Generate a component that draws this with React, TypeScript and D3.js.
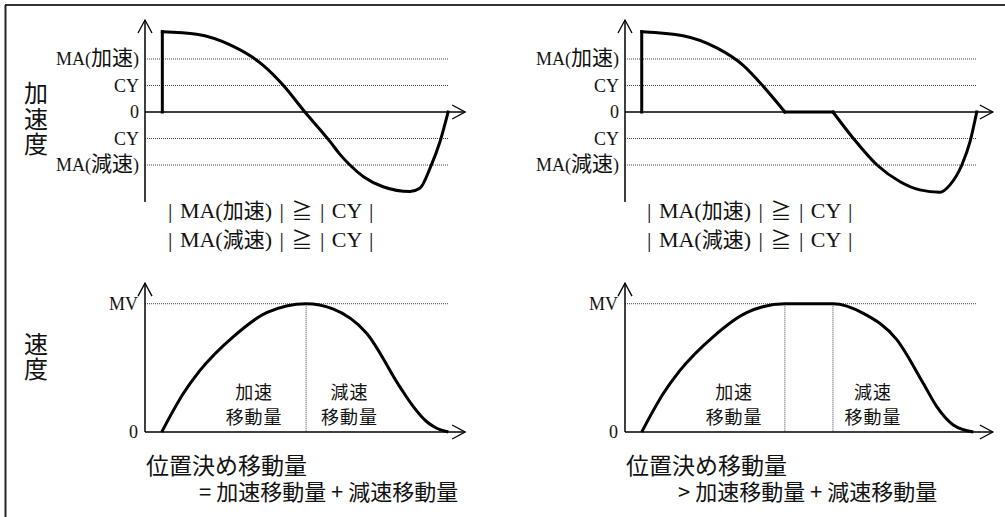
import React from 'react';
import * as d3 from 'd3';

// ---- data (time units, acceleration in CY units, velocity in MV units) ----
const accelTickLabels = ['MA(加速)', 'CY', '0', 'CY', 'MA(減速)'];
const accelTickValues = [2, 1, 0, -1, -2];
const velTickLabels = ['MV', '0'];
const velTickValues = [1, 0];

// left panel: acceleration
const accelLeftStep: [number, number][] = [[5.7, 0], [5.7, 3.03]];
const accelLeftCurve: [number, number][] = [
  [5.7, 3.03], [17.0, 2.93], [28.0, 2.53], [38.8, 1.77], [45.4, 1.02], [52.6, 0],
  [60.9, -1.12], [64.0, -1.58], [67.4, -2.0], [72.0, -2.45], [78.3, -2.82], [87.2, -3.0],
  [90.5, -2.87], [93.8, -2.11], [97.0, -1.13], [99.7, 0],
];
// right panel: acceleration
const accelRightStep: [number, number][] = [[5.5, 0], [5.5, 3.03]];
const accelRightDown: [number, number][] = [
  [5.5, 3.03], [19.1, 2.88], [30.2, 2.42], [38.8, 1.77], [45.4, 0.98], [52.6, 0],
];
const accelRightFlat: [number, number][] = [[52.6, 0], [68.4, 0]];
const accelRightNeg: [number, number][] = [
  [68.4, 0], [75.0, -0.98], [82.9, -2.0], [90.5, -2.63], [97.0, -2.94], [103.6, -3.03],
  [106.9, -2.75], [110.8, -2.0], [113.5, -1.12], [115.7, 0],
];
// velocity
const velLeft: [number, number][] = [
  [5.5, 0], [12.6, 0.3], [18.1, 0.48], [28.9, 0.74], [40.0, 0.93], [53.0, 1.0],
  [61.8, 0.96], [72.9, 0.77], [83.9, 0.35], [88.2, 0.2], [92.7, 0.08], [95.5, 0.035], [99.8, 0],
];
const velLeftSplit = [53.0];
const velRight: [number, number][] = [
  [5.5, 0], [12.6, 0.3], [18.1, 0.48], [28.9, 0.74], [40.0, 0.93], [52.6, 1.0],
  [68.4, 1.0], [78.4, 0.925], [89.4, 0.72], [98.1, 0.38], [102.5, 0.2], [108.0, 0.055], [114.6, 0],
];
const velRightSplit = [52.6, 68.4];

const panels = [
  { ox: 145, tEnd: 100, tArrow: 105.3, accel: [accelLeftStep, accelLeftCurve], vel: velLeft, splits: velLeftSplit,
    formulaX: 168, sumX: 199, sumText: '= 加速移動量 + 減速移動量', accLabelT: 35.9, decLabelT: 67.3 },
  { ox: 625, tEnd: 115.7, tArrow: 121, accel: [accelRightStep, accelRightDown, accelRightFlat, accelRightNeg], vel: velRight, splits: velRightSplit,
    formulaX: 647, sumX: 678, sumText: '> 加速移動量 + 減速移動量', accLabelT: 35.9, decLabelT: 81.6 },
];

const SERIF = "'Liberation Serif', 'Noto Sans CJK JP', serif";
const SANS = "'Noto Sans CJK JP', 'Noto Sans', sans-serif";

// split a label into latin / CJK runs so CJK can be sized separately
function runs(s: string): { t: string; cjk: boolean }[] {
  const out: { t: string; cjk: boolean }[] = [];
  for (const ch of s) {
    const cjk = /[\u3000-\u9fff\u2266\u2267]/.test(ch);
    if (out.length && out[out.length - 1].cjk === cjk) out[out.length - 1].t += ch;
    else out.push({ t: ch, cjk });
  }
  return out;
}

function MixedText(props: { x: number; y: number; s: string; size: number; cjkSize: number; anchor?: string; wordSpacing?: number }) {
  return (
    <text x={props.x} y={props.y} textAnchor={props.anchor || 'start'} fontFamily={SERIF} fontSize={props.size} fill="#111"
      style={props.wordSpacing ? { wordSpacing: props.wordSpacing + 'px' } : undefined}>
      {runs(props.s).map((r, i) => (
        <tspan key={i} fontSize={r.cjk ? props.cjkSize : props.size} fontFamily={r.cjk ? SANS : SERIF}>{r.t}</tspan>
      ))}
    </text>
  );
}

export default function App() {
  const tScale = d3.scaleLinear().domain([0, 100]).range([0, 304]);
  const aScale = d3.scaleLinear().domain([-3, 3]).range([112 + 79.5, 112 - 79.5]);
  const vScale = d3.scaleLinear().domain([0, 1]).range([432, 303.7]);

  const accelLine = (pts: [number, number][], ox: number, linear: boolean) =>
    d3.line<[number, number]>()
      .x(d => ox + tScale(d[0]))
      .y(d => aScale(d[1]))
      .curve(linear ? d3.curveLinear : d3.curveMonotoneX)(pts) || '';
  const velLine = (pts: [number, number][], ox: number) =>
    d3.line<[number, number]>()
      .x(d => ox + tScale(d[0]))
      .y(d => vScale(d[1]))
      .curve(d3.curveMonotoneX)(pts) || '';

  const yTopAxis = aScale(3.47);
  const yBotAxis = aScale(-3.4);
  const a0 = aScale(0);
  const v0 = vScale(0);
  const vTop = vScale(1.16);

  return (
    <svg width={1005} height={517} style={{ position: 'absolute', left: 0, top: 0, background: '#fff' }}>
      <rect x={0} y={0} width={1005} height={517} fill="#fff" />
      {/* frame */}
      <line x1={5} y1={5} x2={1005} y2={5} stroke="#333" strokeWidth={2} />
      <line x1={5.5} y1={5} x2={5.5} y2={517} stroke="#222" strokeWidth={2} />

      {/* side labels (vertical writing) */}
      <text x={36} y={81} fontFamily={SANS} fontSize={24} fill="#111"
        style={{ writingMode: 'vertical-rl', letterSpacing: '1.5px' }}>加速度</text>
      <text x={36} y={332} fontFamily={SANS} fontSize={24} fill="#111"
        style={{ writingMode: 'vertical-rl', letterSpacing: '1px' }}>速度</text>

      {panels.map((p, pi) => {
        const xEnd = p.ox + tScale(p.tEnd);
        const xArrow = p.ox + tScale(p.tArrow);
        return (
          <g key={pi}>
            {/* ---- acceleration ---- */}
            {accelTickValues.map((v, i) => (
              <g key={'at' + i}>
                {v !== 0 && (
                  <line x1={p.ox} x2={xEnd} y1={aScale(v)} y2={aScale(v)} stroke="#444" strokeWidth={1} strokeDasharray="1,1" />
                )}
                <MixedText x={p.ox - 6} y={aScale(v) + 6} s={accelTickLabels[i]} size={18} cjkSize={21} anchor="end" />
              </g>
            ))}
            <line x1={p.ox} x2={p.ox} y1={yTopAxis} y2={yBotAxis} stroke="#000" strokeWidth={1.5} />
            <polyline points={`${p.ox - 7},${yTopAxis + 13} ${p.ox},${yTopAxis} ${p.ox + 7},${yTopAxis + 13}`} fill="none" stroke="#000" strokeWidth={1.3} />
            <line x1={p.ox} x2={xArrow} y1={a0} y2={a0} stroke="#000" strokeWidth={1.5} />
            <polyline points={`${xArrow - 13},${a0 - 7} ${xArrow},${a0} ${xArrow - 13},${a0 + 7}`} fill="none" stroke="#000" strokeWidth={1.3} />
            {p.accel.map((seg, si) => (
              <path key={'ac' + si} d={accelLine(seg, p.ox, seg.length === 2)} fill="none" stroke="#000" strokeWidth={3} strokeLinecap="square" strokeLinejoin="round" />
            ))}
            <MixedText x={p.formulaX} y={218} s="| MA(加速) | ≧ | CY |" size={22} cjkSize={21} wordSpacing={2} />
            <MixedText x={p.formulaX} y={247} s="| MA(減速) | ≧ | CY |" size={22} cjkSize={21} wordSpacing={2} />

            {/* ---- velocity ---- */}
            <line x1={p.ox} x2={xEnd} y1={vScale(1)} y2={vScale(1)} stroke="#444" strokeWidth={1} strokeDasharray="1,1" />
            {p.splits.map((s, i) => (
              <line key={'sp' + i} x1={p.ox + tScale(s)} x2={p.ox + tScale(s)} y1={vScale(1)} y2={v0} stroke="#444" strokeWidth={1} strokeDasharray="1,1" />
            ))}
            {velTickValues.map((v, i) => (
              <text key={'vt' + i} x={p.ox - 7} y={vScale(v) + 6} textAnchor="end" fontFamily={SERIF} fontSize={18} fill="#111">{velTickLabels[i]}</text>
            ))}
            <line x1={p.ox} x2={p.ox} y1={vTop} y2={v0} stroke="#000" strokeWidth={1.5} />
            <polyline points={`${p.ox - 7},${vTop + 13} ${p.ox},${vTop} ${p.ox + 7},${vTop + 13}`} fill="none" stroke="#000" strokeWidth={1.3} />
            <line x1={p.ox} x2={xArrow} y1={v0} y2={v0} stroke="#000" strokeWidth={1.5} />
            <polyline points={`${xArrow - 13},${v0 - 7} ${xArrow},${v0} ${xArrow - 13},${v0 + 7}`} fill="none" stroke="#000" strokeWidth={1.3} />
            <path d={velLine(p.vel, p.ox)} fill="none" stroke="#000" strokeWidth={3} strokeLinejoin="round" />

            <text x={p.ox + tScale(p.accLabelT)} y={399} textAnchor="middle" fontFamily={SANS} fontSize={18} letterSpacing={1} fill="#111">加速</text>
            <text x={p.ox + tScale(p.accLabelT)} y={424} textAnchor="middle" fontFamily={SANS} fontSize={18} letterSpacing={1} fill="#111">移動量</text>
            <text x={p.ox + tScale(p.decLabelT)} y={399} textAnchor="middle" fontFamily={SANS} fontSize={18} letterSpacing={1} fill="#111">減速</text>
            <text x={p.ox + tScale(p.decLabelT)} y={424} textAnchor="middle" fontFamily={SANS} fontSize={18} letterSpacing={1} fill="#111">移動量</text>

            <text x={p.ox + 1} y={474} fontFamily={SANS} fontSize={23} fill="#111">位置決め移動量</text>
            <text x={p.sumX} y={500} fontFamily={SANS} fontSize={22} fill="#111">{p.sumText}</text>
          </g>
        );
      })}
    </svg>
  );
}
